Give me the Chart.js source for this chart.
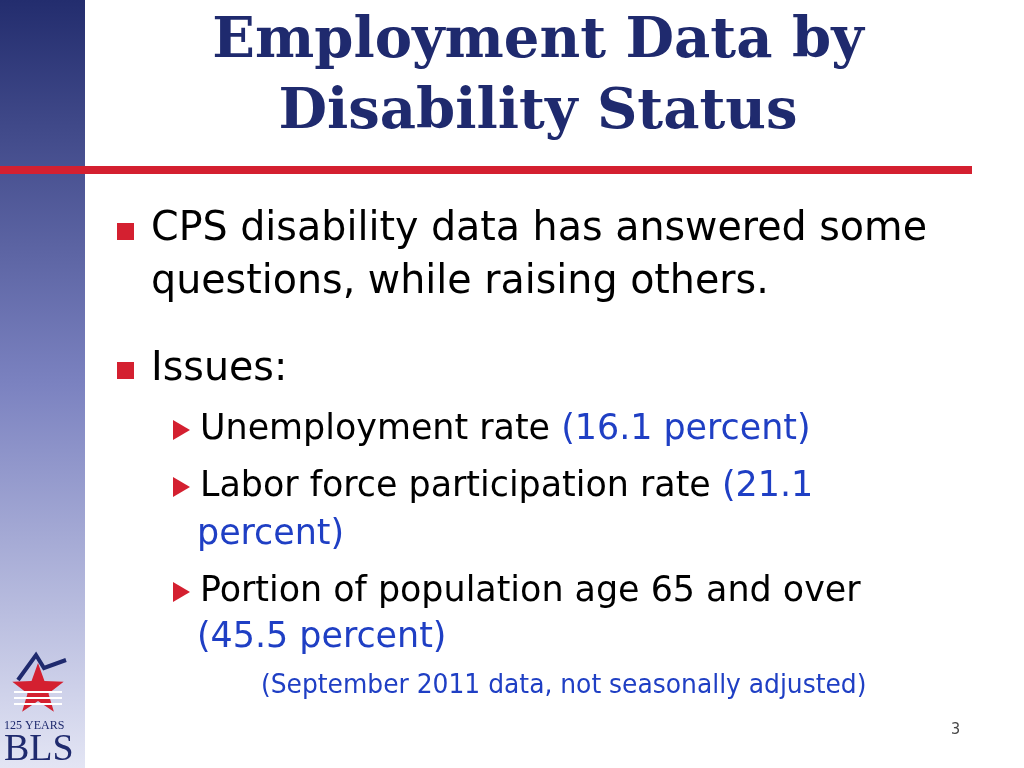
<!DOCTYPE html>
<html>
<head>
<meta charset="utf-8">
<script src="https://cdn.jsdelivr.net/npm/chart.js@4"></script>
<style>
  html, body { margin: 0; padding: 0; background: #fff; }
  canvas { display: block; }
</style>
</head>
<body>
<canvas id="slide" width="1024" height="768"></canvas>
<script>
// slide content
const titleLines = ["Employment Data by", "Disability Status"];
const bulletLines = [["CPS disability data has answered some", "questions, while raising others."], ["Issues:"]];
const issueLabels = ["Unemployment rate", "Labor force participation rate", "Portion of population age 65 and over"];
const issueValues = [16.1, 21.1, 45.5];
const footnote = "(September 2011 data, not seasonally adjusted)";
const pageNumber = "3";

const NAVY = "#1f2a6e";
const RED = "#d42030";
const BLUE = "#1f3fc4";
const SANS = "'DejaVu Sans Condensed', 'DejaVu Sans', sans-serif";
let SX = 1.1; // stretch condensed face toward the original's width

function text(ctx, s, x, y) {
  ctx.save();
  ctx.translate(x, y);
  ctx.scale(SX, 1);
  ctx.fillText(s, 0, 0);
  ctx.restore();
}

function tri(ctx, x, y) {
  ctx.fillStyle = RED;
  ctx.beginPath();
  ctx.moveTo(x, y - 10);
  ctx.lineTo(x + 17, y);
  ctx.lineTo(x, y + 10);
  ctx.closePath();
  ctx.fill();
}

function pair(ctx, x, y, black, blue) {
  ctx.fillStyle = "#000";
  text(ctx, black, x, y);
  if (blue) {
    const w = ctx.measureText(black + " ").width * SX;
    ctx.fillStyle = BLUE;
    text(ctx, blue, x + w, y);
  }
}

const slidePlugin = {
  id: "slide",
  afterDraw(chart) {
    const ctx = chart.ctx;
    ctx.save();
    // left band
    const g = ctx.createLinearGradient(0, 0, 0, 768);
    g.addColorStop(0, "#232d6e");
    g.addColorStop(0.5, "#7b82c0");
    g.addColorStop(1, "#e3e5f4");
    ctx.fillStyle = g;
    ctx.fillRect(0, 0, 85, 768);

    // title
    ctx.fillStyle = NAVY;
    ctx.font = "bold 56px 'DejaVu Serif', 'Liberation Serif', serif";
    ctx.textAlign = "center";
    ctx.textBaseline = "middle";
    ctx.fillText(titleLines[0], 538, 42);
    ctx.fillText(titleLines[1], 538, 113);

    // red rule
    ctx.fillStyle = RED;
    ctx.fillRect(0, 166, 972, 8);

    // main bullets
    ctx.textAlign = "left";
    ctx.font = "40px " + SANS;
    ctx.fillStyle = RED;
    ctx.fillRect(117, 223, 17, 17);
    ctx.fillRect(117, 362, 17, 17);
    ctx.fillStyle = "#000";
    SX = 1.1;
    text(ctx, bulletLines[0][0], 151, 230);
    text(ctx, bulletLines[0][1], 151, 283);
    text(ctx, bulletLines[1][0], 151, 370);

    // sub bullets
    ctx.font = "36px " + SANS;
    SX = 1.077;
    const fmt = v => "(" + v.toFixed(1) + " percent)";
    tri(ctx, 173, 430);
    pair(ctx, 200, 430, issueLabels[0], fmt(issueValues[0]));
    tri(ctx, 173, 487);
    pair(ctx, 200, 487, issueLabels[1], "(" + issueValues[1].toFixed(1));
    ctx.fillStyle = BLUE;
    text(ctx, "percent)", 197, 535);
    tri(ctx, 173, 592);
    pair(ctx, 200, 592, issueLabels[2], "");
    ctx.fillStyle = BLUE;
    text(ctx, fmt(issueValues[2]), 197, 638);

    ctx.font = "27px " + SANS;
    SX = 1.028;
    text(ctx, footnote, 261, 686);

    ctx.fillStyle = "#444";
    ctx.font = "16px " + SANS;
    ctx.fillText(pageNumber, 951, 730);

    // logo
    ctx.fillStyle = RED;
    ctx.beginPath();
    const cx = 38, cy = 690, R = 27, r = 11;
    for (let i = 0; i < 10; i++) {
      const a = -Math.PI / 2 + i * Math.PI / 5;
      const rr = i % 2 ? r : R;
      ctx.lineTo(cx + rr * Math.cos(a), cy + rr * Math.sin(a));
    }
    ctx.closePath();
    ctx.fill();
    ctx.strokeStyle = "#fff";
    ctx.lineWidth = 2;
    for (let k = 0; k < 3; k++) {
      ctx.beginPath();
      ctx.moveTo(14, 692 + k * 6);
      ctx.lineTo(62, 692 + k * 6);
      ctx.stroke();
    }
    ctx.strokeStyle = NAVY;
    ctx.lineWidth = 4;
    ctx.beginPath();
    ctx.moveTo(18, 680);
    ctx.lineTo(36, 655);
    ctx.lineTo(44, 668);
    ctx.lineTo(66, 660);
    ctx.stroke();
    ctx.fillStyle = NAVY;
    ctx.font = "12px 'Liberation Serif', serif";
    ctx.fillText("125 YEARS", 4, 726);
    ctx.font = "38px 'Liberation Serif', serif";
    ctx.fillText("BLS", 4, 750);
    ctx.restore();
  }
};

new Chart(document.getElementById("slide"), {
  type: "bar",
  data: { labels: issueLabels, datasets: [{ data: [], hidden: true }] },
  options: {
    responsive: false,
    animation: false,
    devicePixelRatio: 1,
    plugins: { legend: { display: false }, tooltip: { enabled: false } },
    scales: { x: { display: false }, y: { display: false } }
  },
  plugins: [slidePlugin]
});
</script>
</body>
</html>
